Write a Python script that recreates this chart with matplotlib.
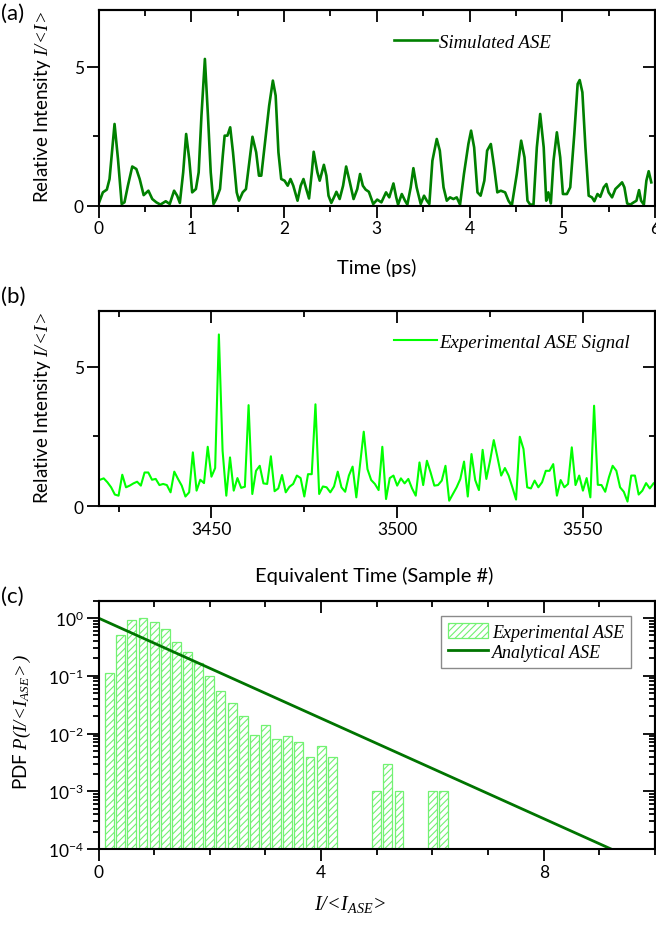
import matplotlib

matplotlib.use("Agg")

import matplotlib.pyplot as plt
import numpy as np
from matplotlib.ticker import (FixedLocator, FuncFormatter, LogLocator,
                               MultipleLocator, NullFormatter)

# (a) simulated ASE, time in ps
sim_t = [
    0.0, 0.047, 0.09, 0.119, 0.173, 0.21, 0.25, 0.28, 0.317, 0.364,
    0.408, 0.444, 0.487, 0.538, 0.58, 0.624, 0.667, 0.725, 0.768, 0.815,
    0.848, 0.877, 0.913, 0.945, 0.978, 1.01, 1.05, 1.08, 1.11, 1.147,
    1.18, 1.21, 1.24, 1.27, 1.31, 1.34, 1.36, 1.39, 1.42, 1.45,
    1.49, 1.515, 1.555, 1.59, 1.63, 1.66, 1.70, 1.73, 1.755, 1.80,
    1.84, 1.88, 1.91, 1.94, 1.97, 2.006, 2.04, 2.07, 2.10, 2.146,
    2.18, 2.21, 2.24, 2.27, 2.30, 2.32, 2.36, 2.385, 2.43, 2.457,
    2.48, 2.51, 2.547, 2.565, 2.60, 2.637, 2.67, 2.71, 2.75, 2.79,
    2.82, 2.85, 2.88, 2.915, 2.962, 3.005, 3.05, 3.10, 3.135, 3.18,
    3.21, 3.23, 3.27, 3.305, 3.33, 3.366, 3.395, 3.43, 3.474, 3.51,
    3.54, 3.567, 3.60, 3.647, 3.68, 3.72, 3.755, 3.79, 3.826, 3.862,
    3.898, 3.94, 3.988, 4.017, 4.05, 4.086, 4.12, 4.16, 4.19, 4.23,
    4.266, 4.30, 4.337, 4.384, 4.42, 4.456, 4.51, 4.557, 4.593, 4.625,
    4.654, 4.69, 4.726, 4.762, 4.80, 4.827, 4.85, 4.877, 4.906, 4.942,
    4.978, 5.007, 5.05, 5.086, 5.13, 5.166, 5.188, 5.217, 5.25, 5.285,
    5.32, 5.346, 5.38, 5.41, 5.447, 5.476, 5.50, 5.537, 5.573, 5.61,
    5.645, 5.67, 5.70, 5.734, 5.77, 5.80, 5.828, 5.85, 5.88, 5.907,
    5.932, 5.96,
]
sim_i = [
    0.06, 0.48, 0.58, 0.96, 2.94, 1.68, 0.06, 0.12, 0.72, 1.41,
    1.32, 0.96, 0.38, 0.54, 0.24, 0.12, 0.04, 0.16, 0.06, 0.54,
    0.36, 0.10, 1.20, 2.58, 1.68, 0.48, 0.60, 1.20, 3.24, 5.28,
    3.24, 1.20, 0.06, 0.24, 0.60, 1.80, 2.52, 2.52, 2.82, 1.92,
    0.48, 0.18, 0.48, 0.60, 1.68, 2.48, 1.92, 1.08, 1.08, 2.40,
    3.60, 4.50, 3.96, 1.92, 0.96, 0.90, 0.72, 0.96, 0.72, 0.18,
    0.72, 0.96, 0.60, 0.26, 1.20, 1.94, 1.20, 0.90, 1.47, 1.08,
    0.36, 0.10, 0.36, 0.50, 0.24, 0.72, 1.41, 0.84, 0.24, 0.60,
    1.14, 0.72, 0.58, 0.50, 0.06, 0.22, 0.12, 0.48, 0.30, 0.80,
    0.30, 0.04, 0.42, 0.18, 0.04, 0.66, 1.35, 0.66, 0.06, 0.36,
    0.18, 0.06, 1.62, 2.40, 1.98, 0.66, 0.18, 0.30, 0.24, 0.30,
    0.04, 1.14, 2.22, 2.70, 2.10, 0.48, 0.36, 0.90, 1.98, 2.22,
    1.38, 0.48, 0.54, 0.48, 0.18, 0.00, 1.14, 2.34, 1.74, 0.18,
    0.04, 0.04, 2.10, 3.30, 2.10, 0.18, 0.48, 0.08, 1.62, 2.64,
    1.74, 0.42, 0.42, 0.66, 2.58, 4.38, 4.52, 4.08, 2.10, 0.36,
    0.30, 0.16, 0.42, 0.32, 0.66, 0.78, 0.48, 0.30, 0.60, 0.72,
    0.84, 0.66, 0.08, 0.04, 0.12, 0.18, 0.56, 0.18, 0.04, 0.90,
    1.24, 0.84,
]

# (b) experimental ASE, one value per sample 3420..3569
exp_start = 3420
exp_i = [
    0.95, 1.00, 0.86, 0.68, 0.42, 0.38, 1.13, 0.68, 0.74, 0.82,
    0.88, 0.74, 1.21, 1.21, 0.95, 0.98, 0.76, 0.80, 0.76, 0.50,
    1.24, 0.98, 0.74, 0.35, 0.50, 1.93, 0.56, 0.95, 0.83, 2.13,
    1.06, 1.37, 6.15, 1.99, 0.38, 1.75, 0.56, 1.01, 0.66, 0.70,
    3.62, 0.44, 1.27, 1.45, 0.82, 0.80, 1.79, 0.54, 0.64, 1.12,
    0.50, 0.70, 0.80, 1.10, 1.01, 0.35, 1.15, 1.15, 3.65, 0.44,
    0.71, 0.68, 0.50, 0.71, 1.24, 0.68, 0.52, 1.10, 1.42, 0.32,
    1.51, 2.67, 1.33, 0.94, 0.80, 0.58, 2.13, 0.26, 1.01, 1.10,
    0.74, 1.00, 0.82, 0.98, 0.64, 0.38, 1.57, 0.76, 1.63, 1.21,
    0.74, 0.76, 0.92, 1.45, 0.20, 0.44, 0.68, 0.98, 1.60, 0.35,
    1.87, 0.94, 0.58, 2.02, 0.98, 1.63, 2.37, 1.75, 1.10, 1.37,
    1.10, 0.68, 0.24, 2.49, 2.05, 0.68, 0.64, 0.92, 0.68, 0.86,
    1.27, 1.27, 1.51, 0.38, 0.94, 0.68, 0.80, 2.11, 0.76, 1.10,
    0.56, 1.01, 0.32, 3.60, 0.77, 0.76, 0.52, 1.04, 1.45, 1.27,
    0.68, 0.52, 0.17, 1.10, 1.10, 0.42, 0.56, 0.83, 0.64, 0.82,
]
exp_samples = np.arange(exp_start, exp_start + len(exp_i))

# (c) histogram of experimental intensities and the analytical exponential
hist_x = [0.2, 0.4, 0.6, 0.8, 1.0, 1.2, 1.4, 1.6, 1.8, 2.0,
          2.2, 2.4, 2.6, 2.8, 3.0, 3.2, 3.4, 3.6, 3.8, 4.0,
          4.2, 5.0, 5.2, 5.4, 6.0, 6.2]
hist_pdf = [0.11, 0.50, 0.91, 1.00, 0.84, 0.64, 0.38, 0.26, 0.168, 0.099,
            0.055, 0.034, 0.020, 0.0093, 0.014, 0.0081, 0.0091, 0.0071, 0.0040, 0.0060,
            0.0040, 0.0010, 0.0030, 0.0010, 0.0010, 0.0010]
analytic_x = [0.0, 9.21]
analytic_pdf = [1.0, 1.0e-4]

DARK = "#008000"
BRIGHT = "#00ff00"
HATCH = "#72f272"
SERIF = dict(family="Liberation Serif", style="italic", size=13.5)

plt.rcParams.update({
    "font.family": ["Lato", "DejaVu Sans"],
    "font.size": 12.5,
    "mathtext.fontset": "custom",
    "mathtext.rm": "Liberation Serif:italic",
    "mathtext.it": "Liberation Serif:italic",
    "mathtext.sf": "Lato",
    "axes.linewidth": 1.5,
    "hatch.linewidth": 0.8,
})


def frame(ax, xmaj, xmin, ymaj=None, ymin=None, log=False):
    ax.tick_params(which="both", direction="out", width=1.3, top=False, right=False,
                   labelsize=12.5, pad=2)
    ax.tick_params(which="major", length=8.5)
    ax.tick_params(which="minor", length=4.5)
    ax.xaxis.set_major_locator(MultipleLocator(xmaj))
    ax.xaxis.set_minor_locator(MultipleLocator(xmin))
    top = ax.secondary_xaxis("top")
    top.xaxis.set_major_locator(MultipleLocator(xmaj))
    top.xaxis.set_minor_locator(MultipleLocator(xmin))
    right = ax.secondary_yaxis("right")
    if log:
        ax.yaxis.set_major_locator(FixedLocator([1e-4, 1e-3, 1e-2, 1e-1, 1e0]))
        ax.yaxis.set_minor_locator(LogLocator(base=10, subs=np.arange(2, 10), numticks=100))
        ax.yaxis.set_major_formatter(
            FuncFormatter(lambda v, p: r"$\mathsf{10^{%d}}$" % round(np.log10(v))))
        ax.yaxis.set_minor_formatter(NullFormatter())
        right.yaxis.set_major_locator(FixedLocator([1e-4, 1e-3, 1e-2, 1e-1, 1e0]))
        right.yaxis.set_minor_locator(LogLocator(base=10, subs=np.arange(2, 10), numticks=100))
    else:
        ax.yaxis.set_major_locator(MultipleLocator(ymaj))
        ax.yaxis.set_minor_locator(MultipleLocator(ymin))
        right.yaxis.set_major_locator(MultipleLocator(ymaj))
        right.yaxis.set_minor_locator(MultipleLocator(ymin))
    for sec, axis in ((top, top.xaxis), (right, right.yaxis)):
        sec.tick_params(which="both", direction="in", width=1.3)
        sec.tick_params(which="major", length=8.5)
        sec.tick_params(which="minor", length=4.5)
        axis.set_major_formatter(NullFormatter())
        axis.set_minor_formatter(NullFormatter())


fig = plt.figure(figsize=(6.56, 9.28), dpi=100)
W, H = 656, 928


def place(left, top, right, bottom):
    return fig.add_axes([left / W, 1 - bottom / H, (right - left) / W, (bottom - top) / H])


ylab = r"Relative Intensity $I/\!<\!I\!>$"

# panel (a)
ax_a = place(98.5, 11, 655, 206.7)
ax_a.plot(sim_t, sim_i, color=DARK, lw=1.9, solid_joinstyle="round", label="Simulated ASE")
ax_a.set_xlim(0, 6)
ax_a.set_ylim(0, 7.04)
frame(ax_a, 1, 0.5, 5, 2.5)
ax_a.set_xlabel("Time (ps)", va="center", fontsize=14.5)
ax_a.xaxis.set_label_coords(0.5, -0.313)
ax_a.set_ylabel(ylab, va="center", fontsize=13.5)
ax_a.yaxis.set_label_coords(-0.1015, 0.51)
ax_a.legend(loc="center left", bbox_to_anchor=(0.50, 0.836), frameon=False,
            handlelength=2.3, handletextpad=0.12, prop=SERIF)

# panel (b)
ax_b = place(98.5, 311.7, 655, 507.3)
ax_b.plot(exp_samples, exp_i, color=BRIGHT, lw=1.5, label="Experimental ASE Signal")
ax_b.set_xlim(3419.6, 3569.4)
ax_b.set_ylim(0, 7)
frame(ax_b, 50, 25, 5, 2.5)
ax_b.set_xlabel("Equivalent Time (Sample #)", va="center", fontsize=14.5)
ax_b.xaxis.set_label_coords(0.495, -0.351)
ax_b.set_ylabel(ylab, va="center", fontsize=13.5)
ax_b.yaxis.set_label_coords(-0.1015, 0.51)
ax_b.legend(loc="center left", bbox_to_anchor=(0.50, 0.84), frameon=False,
            handlelength=2.3, handletextpad=0.12, prop=SERIF)

# panel (c)
ax_c = place(98.5, 601.7, 655, 850)
ax_c.set_yscale("log")
bars = ax_c.bar(hist_x, np.array(hist_pdf) - 1e-5, width=0.16, bottom=1e-5,
                facecolor="white", edgecolor=HATCH, hatch="/////", lw=0.9,
                label="Experimental ASE")
line, = ax_c.plot(analytic_x, analytic_pdf, color="#007400", lw=2.0, label="Analytical ASE")
ax_c.set_xlim(0, 10)
ax_c.set_ylim(1e-4, 2.0)
frame(ax_c, 4, 1, log=True)
ax_c.set_xlabel(r"$I/\!<\!I_{ASE}\!>$", va="center", fontsize=14.5)
ax_c.xaxis.set_label_coords(0.452, -0.2215)
ax_c.set_ylabel(r"PDF $P(I/\!<\!I_{ASE}\!>)$", va="center", fontsize=13.5)
ax_c.yaxis.set_label_coords(-0.137, 0.515)
leg = ax_c.legend(handles=[bars, line], loc="upper right", bbox_to_anchor=(0.957, 0.938),
                  borderaxespad=0, fancybox=False, edgecolor="#8a8a8a", framealpha=1,
                  handlelength=2.2, handleheight=0.9, handletextpad=0.2,
                  labelspacing=0.12, borderpad=0.4, prop=dict(SERIF, size=13))
leg.get_frame().set_linewidth(1.0)

for letter, y in (("(a)", 14), ("(b)", 297), ("(c)", 597)):
    fig.text(1 / W, 1 - y / H, letter, fontsize=16, va="center", ha="left")

fig.savefig("out.png", dpi=100)
